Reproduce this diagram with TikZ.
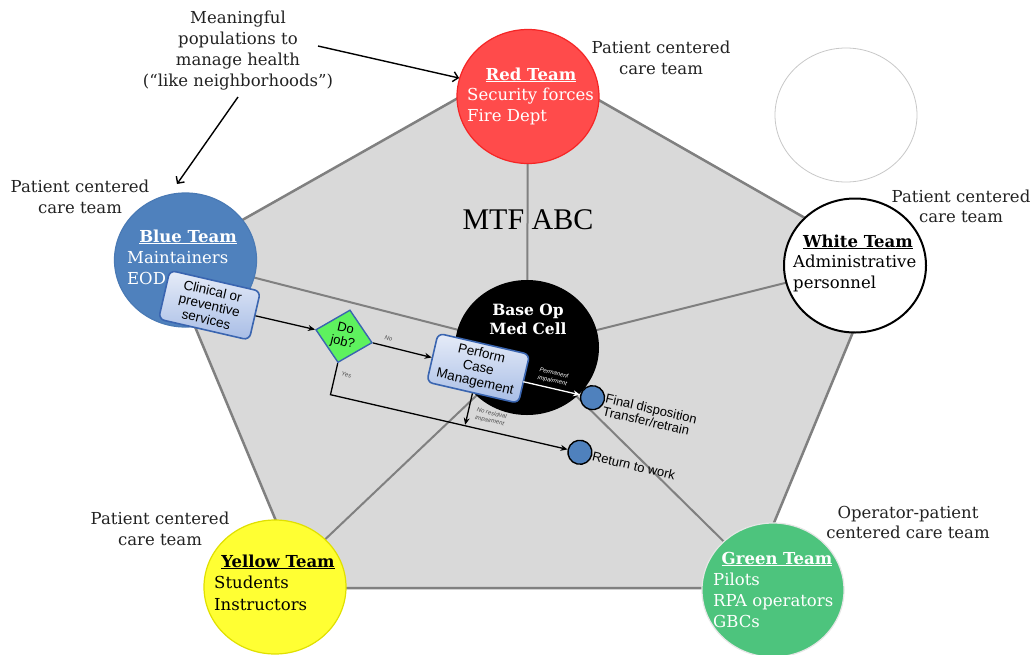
\documentclass[tikz,border=0pt]{standalone}
\usepackage{fontspec}
\setmainfont{DejaVu Serif}
\newfontfamily\tnr{Liberation Serif}
\newfontfamily\arial{Liberation Sans}
\usetikzlibrary{shapes.geometric,arrows.meta}
\definecolor{pentfill}{HTML}{D9D9D9}
\definecolor{pentline}{HTML}{808080}
\definecolor{redteam}{HTML}{FF4B4B}
\definecolor{redline}{HTML}{F52525}
\definecolor{blueteam}{HTML}{4F81BD}
\definecolor{blueline}{HTML}{4A7AB5}
\definecolor{yellowteam}{HTML}{FFFF33}
\definecolor{yellowline}{HTML}{E0E000}
\definecolor{greenteam}{HTML}{4DC47D}
\definecolor{greenline}{HTML}{E6E6E6}
\definecolor{boxtop}{HTML}{E6ECF8}
\definecolor{boxbot}{HTML}{A8BDE6}
\definecolor{boxline}{HTML}{3A65B0}
\definecolor{djfill}{HTML}{5EF25E}
\definecolor{dotfill}{HTML}{4F81BD}
\definecolor{emptyline}{HTML}{C8C8C8}
\definecolor{pcctext}{HTML}{222222}
\begin{document}
\begin{tikzpicture}[x=1pt,y=-1pt,
  team/.style={ellipse, minimum width=142pt, minimum height=134pt, inner sep=0pt, line width=1.2pt},
  txt/.style={inner sep=0pt, font=\fontsize{16.5}{21}\selectfont},
  ttl/.style={txt, anchor=base},
  itm/.style={txt, anchor=base west},
  spoke/.style={draw=pentline, line width=2pt},
  annarr/.style={line width=1.4pt, -{Straight Barb[length=5pt,width=10pt]}},
  flowbox/.style={draw=boxline, line width=1.6pt, rounded corners=6pt, top color=boxtop, bottom color=boxbot, minimum width=93pt, minimum height=50pt, align=center, inner sep=0pt, font=\arial\fontsize{13.5}{14.5}\selectfont},
  dot/.style={circle, fill=dotfill, draw=black, line width=1.4pt, minimum size=24pt, inner sep=0pt},
  flowarr/.style={line width=1.3pt, -{Stealth[length=7pt,width=6pt]}},
  tiny/.style={inner sep=0pt, font=\arial\itshape\fontsize{6}{7.5}\selectfont, align=center},
  sidetxt/.style={inner sep=0pt, font=\arial\fontsize{13}{13}\selectfont},
]
\useasboundingbox (0,0) rectangle (1034,654);
\fill[white] (0,0) rectangle (1034,654);
% pentagon
\coordinate (p1) at (527,59);
\coordinate (p2) at (882,262);
\coordinate (p3) at (747,588);
\coordinate (p4) at (304,588);
\coordinate (p5) at (168,262);
\draw[fill=pentfill, draw=pentline, line width=2.5pt, line join=round] (p1) -- (p2) -- (p3) -- (p4) -- (p5) -- cycle;
% centres
\coordinate (cmed) at (527,347.5);
\coordinate (cred) at (528,96.5);
\coordinate (cblue) at (185.5,260);
\coordinate (cwhite) at (855,265.5);
\coordinate (cyellow) at (275,587);
\coordinate (cgreen) at (773,590);
\draw[spoke] (cmed) -- (cred);
\draw[spoke] (cmed) -- (cblue);
\draw[spoke] (cmed) -- (cwhite);
\draw[spoke] (cmed) -- (cyellow);
\draw[spoke] (cmed) -- (cgreen);
% circles
\node[team, fill=black, minimum width=144pt, minimum height=135pt] (med) at (cmed) {};
\node[team, fill=redteam, draw=redline] (red) at (cred) {};
\node[team, fill=blueteam, draw=blueline] (blue) at (cblue) {};
\node[team, fill=white, draw=black, line width=2pt] (white) at (cwhite) {};
\node[team, fill=yellowteam, draw=yellowline] (yellow) at (cyellow) {};
\node[team, fill=greenteam, draw=greenline] (green) at (cgreen) {};
\node[team, draw=emptyline, line width=0.8pt] (blank) at (846,115) {};
% team texts
\node[ttl, text=white] (redT) at (531,80) {\underline{\textbf{Red Team}}};
\node[itm, text=white] (red1) at (467,100) {Security forces};
\node[itm, text=white] (red2) at (467,121) {Fire Dept};
\node[ttl, text=white] (blueT) at (188,242) {\underline{\textbf{Blue Team}}};
\node[itm, text=white] (blue1) at (127,263) {Maintainers};
\node[itm, text=white] (blue2) at (127,284) {EOD};
\node[ttl, text=black] (whiteT) at (858,247) {\underline{\textbf{White Team}}};
\node[itm, text=black] (white1) at (793,267) {Administrative};
\node[itm, text=black] (white2) at (793,288) {personnel};
\node[ttl, text=black] (yellowT) at (278,567) {\underline{\textbf{Yellow Team}}};
\node[itm, text=black] (yellow1) at (214,588) {Students};
\node[itm, text=black] (yellow2) at (214,610) {Instructors};
\node[ttl, text=white] (greenT) at (777,564) {\underline{\textbf{Green Team}}};
\node[itm, text=white] (green1) at (713,585) {Pilots};
\node[itm, text=white] (green2) at (713,606) {RPA operators};
\node[itm, text=white] (green3) at (713,627) {GBCs};
% centre texts
\node[inner sep=0pt, anchor=base, font=\tnr\fontsize{30}{30}\selectfont] (mtf) at (528,229) {MTF ABC};
\node[inner sep=0pt, anchor=base, text=white, font=\bfseries\fontsize{15.5}{19}\selectfont] (base1) at (528,315) {Base Op};
\node[inner sep=0pt, anchor=base, text=white, font=\bfseries\fontsize{15.5}{19}\selectfont] (base2) at (528,334) {Med Cell};
% annotations
\node[ttl, text=pcctext] (m1) at (238,23) {Meaningful};
\node[ttl, text=pcctext] (m2) at (238,44) {populations to};
\node[ttl, text=pcctext] (m3) at (238,65) {manage health};
\node[ttl, text=pcctext] (m4) at (238,86) {(“like neighborhoods”)};
\node[ttl, text=pcctext] (pr1) at (661,53) {Patient centered};
\node[ttl, text=pcctext] (pr2) at (661,74) {care team};
\node[ttl, text=pcctext] (pb1) at (80,192) {Patient centered};
\node[ttl, text=pcctext] (pb2) at (80,213) {care team};
\node[ttl, text=pcctext] (pw1) at (961,202) {Patient centered};
\node[ttl, text=pcctext] (pw2) at (961,222) {care team};
\node[ttl, text=pcctext] (py1) at (160,524) {Patient centered};
\node[ttl, text=pcctext] (py2) at (160,545) {care team};
\node[ttl, text=pcctext] (pg1) at (908,518) {Operator-patient};
\node[ttl, text=pcctext] (pg2) at (908,538) {centered care team};
\coordinate (a1s) at (318,46);
\coordinate (a2s) at (238,97);
\coordinate (a2e) at (177,184);
\draw[annarr] (a1s) -- (red.165);
\draw[annarr] (a2s) -- (a2e);
% flow chart
\begin{scope}[shift={(343,336)}, rotate=-13, transform shape]
  \node[flowbox] (clin) at (-137,0) {Clinical or\\preventive\\services};
  \node[diamond, draw=boxline, fill=djfill, line width=1.4pt, minimum width=58pt, minimum height=54pt, inner sep=0pt, align=center, font=\arial\fontsize{13}{13.5}\selectfont] (dj) at (1,0) {Do\\job?};
  \node[flowbox, minimum width=94pt] (pcm) at (139,1) {Perform\\Case\\Management};
  \node[dot] (fin) at (257,4) {};
  \node[dot] (ret) at (257,60) {};
  \coordinate (yc) at (1,60);
  \coordinate (pd) at (139,59);
  \coordinate (pe) at (186,4);
  \draw[flowarr] (clin.east) -- (dj.west);
  \draw[flowarr] (dj.east) -- (pcm.west);
  \draw[flowarr] (dj.south) -- (yc) -- (ret.west);
  \draw[flowarr] (pcm.south) -- (pd);
  \draw[flowarr, draw=white, fill=white] (pe) -- (fin.west);
  \node[tiny, text=black!70] (nolbl) at (45,-8) {No};
  \node[tiny, text=black!70] (yeslbl) at (12,37) {Yes};
  \node[tiny, text=white] (permlbl) at (214,-7) {Permanent\\impairment};
  \node[tiny, text=black!70, anchor=west, align=left] (nrlbl) at (147,46) {No residual\\impairment};
  \node[sidetxt, anchor=west, align=left] (fintxt) at (270,8) {Final disposition\\Transfer/retrain};
  \node[sidetxt, anchor=west] (rettxt) at (270,61) {Return to work};
\end{scope}
\end{tikzpicture}
\end{document}
